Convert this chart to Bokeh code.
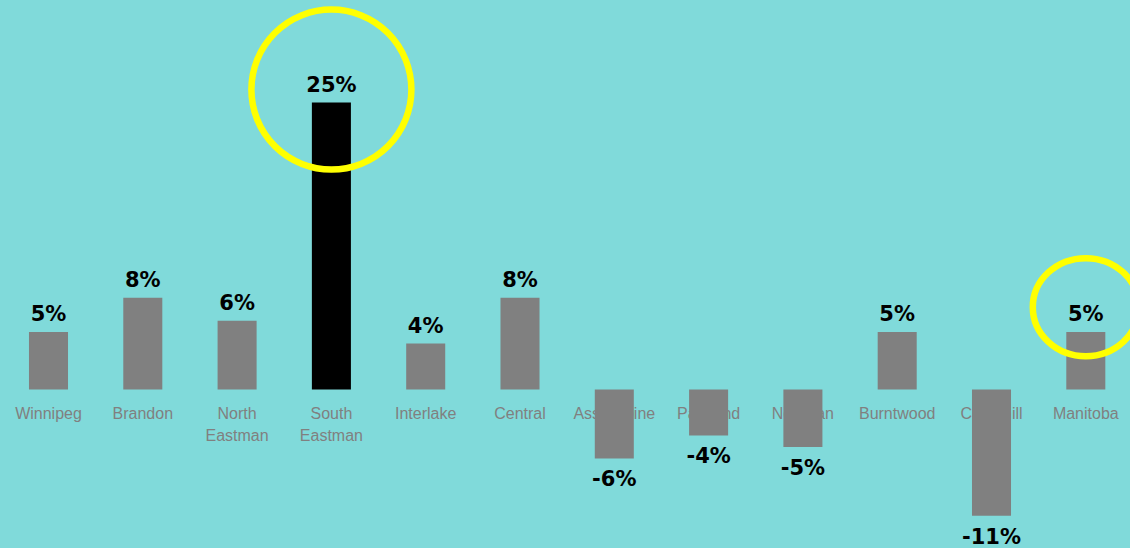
import numpy as np
from bokeh.plotting import figure
from bokeh.models import ColumnDataSource, Range1d, GlobalInlineStyleSheet
from bokeh.core.properties import value
from bokeh.embed import file_html
from bokeh.resources import INLINE

# ---- data ----
regions = ["Winnipeg", "Brandon", "North\nEastman", "South\nEastman", "Interlake", "Central",
           "Assiniboine", "Parkland", "Nor-Man", "Burntwood", "Churchill", "Manitoba"]
change_pct = [5, 8, 6, 25, 4, 8, -6, -4, -5, 5, -11, 5]
highlighted = ["South\nEastman"]
circled = ["South\nEastman", "Manitoba"]

BG = "#80dada"
GREY = "#808080"

idx = np.arange(len(regions))
vals = np.array(change_pct, dtype=float)
colors = ["#000000" if r in highlighted else GREY for r in regions]
labels = [f"{v}%" for v in change_pct]

src = ColumnDataSource(dict(x=idx, v=vals, color=colors, label=labels, region=regions))
pos = ColumnDataSource(dict(x=idx[vals >= 0], v=vals[vals >= 0],
                            label=[l for l, v in zip(labels, vals) if v >= 0]))
neg = ColumnDataSource(dict(x=idx[vals < 0], v=vals[vals < 0],
                            label=[l for l, v in zip(labels, vals) if v < 0]))

px_per_unit = 11.48
p = figure(width=1130, height=548, output_backend="svg", toolbar_location=None,
           x_range=Range1d(-0.509, 11.474), y_range=Range1d(-13.85, 33.89),
           min_border=0, background_fill_color=BG, border_fill_color=BG,
           outline_line_color=None)
p.axis.visible = False
p.grid.visible = False
p.stylesheets = [GlobalInlineStyleSheet(css="html, body { background-color: #80dada; }")]

# category labels (drawn behind bars)
p.text(x="x", y=0, text="region", source=src, text_font=value("Liberation Sans"),
       text_font_size="16px", text_color=GREY, text_align="center",
       text_baseline="top", y_offset=15, text_line_height=1.35)

# bars
p.vbar(x="x", top="v", bottom=0, width=0.414, fill_color="color", line_color=None, source=src)

# value labels
p.text(x="x", y="v", text="label", source=pos, text_font=value("DejaVu Sans"),
       text_font_style="bold", text_font_size="21px", text_color="#000000",
       text_align="center", text_baseline="alphabetic", y_offset=-18)
p.text(x="x", y="v", text="label", source=neg, text_font=value("DejaVu Sans"),
       text_font_style="bold", text_font_size="21px", text_color="#000000",
       text_align="center", text_baseline="top", y_offset=9)

# yellow highlight circles
cx = [regions.index(r) for r in circled]
cv = [change_pct[regions.index(r)] for r in circled]
p.ellipse(x=cx[:1], y=[cv[0] + 13 / px_per_unit], width=160, height=160,
          width_units="screen", height_units="screen",
          fill_color=None, line_color="#ffff00", line_width=6.5)
p.ellipse(x=cx[1:], y=[cv[1] + 25 / px_per_unit], width=106, height=98,
          width_units="screen", height_units="screen",
          fill_color=None, line_color="#ffff00", line_width=6.5)

open("out.html", "w").write(file_html(p, INLINE))
